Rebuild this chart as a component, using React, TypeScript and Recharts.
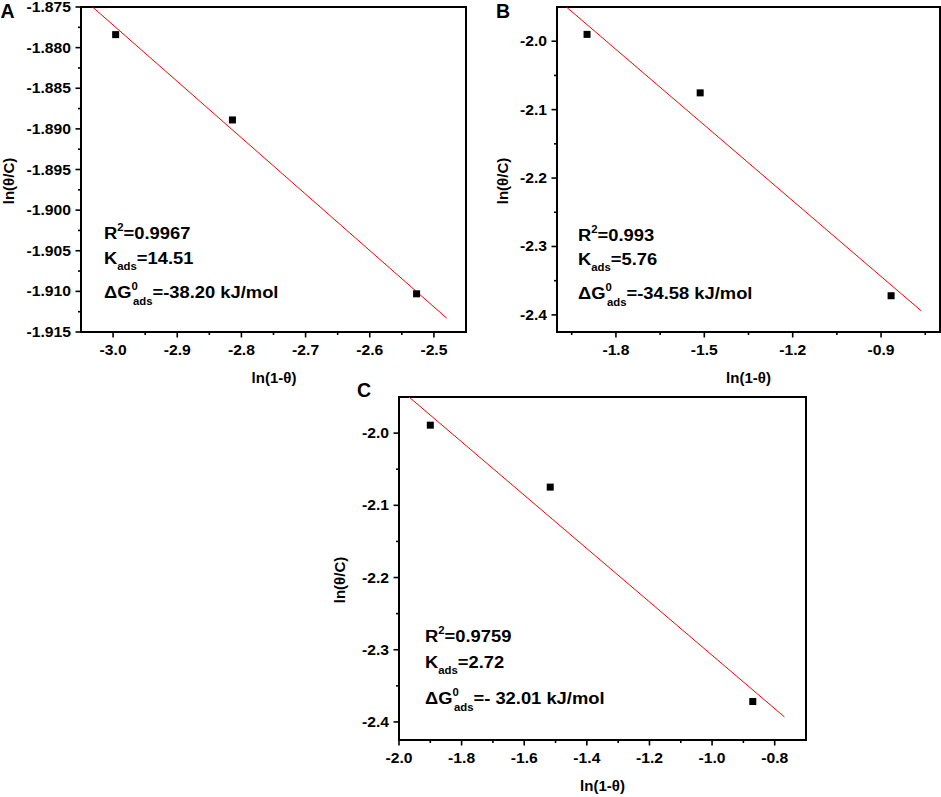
import React from "react";
import {
  ScatterChart,
  Scatter,
  XAxis,
  YAxis,
  ReferenceLine,
  ReferenceArea,
} from "recharts";

const FONT = "'Liberation Sans', Arial, Helvetica, sans-serif";

// panel A
const xA = [-2.996, -2.814, -2.527];
const yA = [-1.8784, -1.8889, -1.9103];
const fitXA = [-3.032, -2.48];
const fitYA = [-1.875, -1.9133];
const xTicksA = [-3.0, -2.9, -2.8, -2.7, -2.6, -2.5];
const xMinorA = [-2.95, -2.85, -2.75, -2.65, -2.55];
const yTicksA = [-1.915, -1.91, -1.905, -1.9, -1.895, -1.89, -1.885, -1.88, -1.875];
const yMinorA = [-1.9125, -1.9075, -1.9025, -1.8975, -1.8925, -1.8875, -1.8825, -1.8775];
const statsA = ["0.9967", "14.51", "-38.20 kJ/mol"];

// panel B
const xB = [-1.898, -1.514, -0.866];
const yB = [-1.99, -2.0755, -2.372];
const fitXB = [-1.968, -0.764];
const fitYB = [-1.95, -2.394];
const xTicksB = [-1.8, -1.5, -1.2, -0.9];
const xMinorB = [-1.95, -1.65, -1.35, -1.05, -0.75];
const yTicksB = [-2.4, -2.3, -2.2, -2.1, -2.0];
const yMinorB = [-2.35, -2.25, -2.15, -2.05];
const statsB = ["0.993", "5.76", "-34.58 kJ/mol"];

// panel C
const xC = [-1.9, -1.517, -0.87];
const yC = [-1.989, -2.0748, -2.3717];
const fitXC = [-1.968, -0.769];
const fitYC = [-1.95, -2.393];
const xTicksC = [-2.0, -1.8, -1.6, -1.4, -1.2, -1.0, -0.8];
const xMinorC = [-1.9, -1.7, -1.5, -1.3, -1.1, -0.9];
const yTicksC = [-2.4, -2.3, -2.2, -2.1, -2.0];
const yMinorC = [-2.35, -2.25, -2.15, -2.05];
const statsC = ["0.9759", "2.72", "- 32.01 kJ/mol"];

const isIn = (list: number[], v: number) => list.some((m) => Math.abs(m - v) < 1e-9);

const makeXTick = (majors: number[], digits: number) => (props: any) => {
  const { x, y, payload } = props;
  const major = isIn(majors, payload.value);
  return (
    <g>
      <line x1={x} x2={x} y1={y} y2={y + (major ? 5.5 : 3)} stroke="#000" strokeWidth={1.6} />
      {major && (
        <text
          transform={`translate(${x} ${y + 23}) scale(1.12 1)`}
          textAnchor="middle"
          fontSize={14}
          fontWeight="bold"
          fontFamily={FONT}
          fill="#000"
        >
          {payload.value.toFixed(digits)}
        </text>
      )}
    </g>
  );
};

const makeYTick = (majors: number[], digits: number) => (props: any) => {
  const { x, y, payload } = props;
  const major = isIn(majors, payload.value);
  return (
    <g>
      <line x1={x} x2={x - (major ? 5.5 : 3)} y1={y} y2={y} stroke="#000" strokeWidth={1.6} />
      {major && (
        <text
          transform={`translate(${x - 10} ${y + 5}) scale(1.12 1)`}
          textAnchor="end"
          fontSize={14}
          fontWeight="bold"
          fontFamily={FONT}
          fill="#000"
        >
          {payload.value.toFixed(digits)}
        </text>
      )}
    </g>
  );
};

const Square = (props: any) => (
  <rect x={props.cx - 3.5} y={props.cy - 3.5} width={7} height={7} fill="#000" />
);

type PanelProps = {
  left: number;
  top: number;
  width: number;
  height: number;
  margin: { top: number; right: number; bottom: number; left: number };
  yAxisWidth: number;
  xAxisHeight: number;
  xs: number[];
  ys: number[];
  fitX: number[];
  fitY: number[];
  xDomain: [number, number];
  yDomain: [number, number];
  xTicks: number[];
  xMinor: number[];
  yTicks: number[];
  yMinor: number[];
  xDigits: number;
  yDigits: number;
};

const Panel = (p: PanelProps) => {
  const data = p.xs.map((x, i) => ({ x, y: p.ys[i] }));
  const allX = [...p.xTicks, ...p.xMinor].sort((a, b) => a - b);
  const allY = [...p.yTicks, ...p.yMinor].sort((a, b) => a - b);
  return (
    <div style={{ position: "absolute", left: p.left, top: p.top }}>
      <ScatterChart width={p.width} height={p.height} margin={p.margin}>
        <XAxis
          dataKey="x"
          type="number"
          domain={p.xDomain}
          allowDataOverflow
          ticks={allX}
          interval={0}
          tickSize={0}
          tickMargin={0}
          tickLine={false}
          axisLine={false}
          height={p.xAxisHeight}
          tick={makeXTick(p.xTicks, p.xDigits)}
        />
        <YAxis
          dataKey="y"
          type="number"
          domain={p.yDomain}
          allowDataOverflow
          ticks={allY}
          interval={0}
          tickSize={0}
          tickMargin={0}
          tickLine={false}
          axisLine={false}
          width={p.yAxisWidth}
          tick={makeYTick(p.yTicks, p.yDigits)}
        />
        <ReferenceLine
          segment={[
            { x: p.fitX[0], y: p.fitY[0] },
            { x: p.fitX[1], y: p.fitY[1] },
          ]}
          stroke="#ff0000"
          strokeWidth={1}
          ifOverflow="visible"
        />
        <Scatter data={data} shape={Square} isAnimationActive={false} />
        <ReferenceArea
          x1={p.xDomain[0]}
          x2={p.xDomain[1]}
          y1={p.yDomain[0]}
          y2={p.yDomain[1]}
          fill="none"
          fillOpacity={0}
          stroke="#000"
          strokeWidth={2}
          strokeOpacity={1}
          ifOverflow="visible"
        />
      </ScatterChart>
    </div>
  );
};

const Stats = ({ x, y, stats }: { x: number; y: number[]; stats: string[] }) => {
  const t = (yy: number) => `translate(${x} ${yy}) scale(1.08 1)`;
  return (
    <g fontFamily={FONT} fontWeight="bold" fill="#000">
      <text transform={t(y[0])} fontSize={17}>
        R<tspan fontSize={10.5} dy={-8}>2</tspan>
        <tspan dy={8}>={stats[0]}</tspan>
      </text>
      <text transform={t(y[1])} fontSize={17}>
        K<tspan fontSize={10.5} dy={6}>ads</tspan>
        <tspan dy={-6}>={stats[1]}</tspan>
      </text>
      <text transform={t(y[2])} fontSize={17}>
        ΔG<tspan fontSize={10.5} dy={-8}>0</tspan>
        <tspan fontSize={10.5} dx={-4.5} dy={15}>ads</tspan>
        <tspan dy={-7}>={stats[2]}</tspan>
      </text>
    </g>
  );
};

const XTitle = ({ x, y }: { x: number; y: number }) => (
  <text x={x} y={y} textAnchor="middle" fontSize={15} fontWeight="bold" fontFamily={FONT}>
    ln(1-θ)
  </text>
);

const YTitle = ({ x, y }: { x: number; y: number }) => (
  <text
    transform={`translate(${x} ${y}) rotate(-90)`}
    textAnchor="middle"
    dominantBaseline="central"
    fontSize={15}
    fontWeight="bold"
    fontFamily={FONT}
  >
    ln(θ/C)
  </text>
);

const Letter = ({ x, y, c }: { x: number; y: number; c: string }) => (
  <text x={x} y={y} fontSize={19.5} fontWeight="bold" fontFamily={FONT}>
    {c}
  </text>
);

export default function App() {
  return (
    <div
      style={{
        position: "absolute",
        left: 0,
        top: 0,
        width: 941,
        height: 797,
        background: "#fff",
        overflow: "hidden",
      }}
    >
      <Panel
        left={0}
        top={0}
        width={470}
        height={390}
        margin={{ top: 7, right: 4, bottom: 0, left: 0 }}
        yAxisWidth={81}
        xAxisHeight={58}
        xs={xA}
        ys={yA}
        fitX={fitXA}
        fitY={fitYA}
        xDomain={[-3.05, -2.45]}
        yDomain={[-1.915, -1.875]}
        xTicks={xTicksA}
        xMinor={xMinorA}
        yTicks={yTicksA}
        yMinor={yMinorA}
        xDigits={1}
        yDigits={3}
      />
      <Panel
        left={470}
        top={0}
        width={471}
        height={390}
        margin={{ top: 7, right: 1, bottom: 0, left: 0 }}
        yAxisWidth={87}
        xAxisHeight={58}
        xs={xB}
        ys={yB}
        fitX={fitXB}
        fitY={fitYB}
        xDomain={[-2.0, -0.7]}
        yDomain={[-2.425, -1.95]}
        xTicks={xTicksB}
        xMinor={xMinorB}
        yTicks={yTicksB}
        yMinor={yMinorB}
        xDigits={1}
        yDigits={1}
      />
      <Panel
        left={320}
        top={370}
        width={490}
        height={427}
        margin={{ top: 27, right: 4, bottom: 0, left: 0 }}
        yAxisWidth={79}
        xAxisHeight={57}
        xs={xC}
        ys={yC}
        fitX={fitXC}
        fitY={fitYC}
        xDomain={[-2.0, -0.7]}
        yDomain={[-2.425, -1.95]}
        xTicks={xTicksC}
        xMinor={xMinorC}
        yTicks={yTicksC}
        yMinor={yMinorC}
        xDigits={1}
        yDigits={1}
      />
      <svg
        width={941}
        height={797}
        style={{ position: "absolute", left: 0, top: 0, pointerEvents: "none" }}
      >
        <Letter x={0.5} y={17.5} c="A" />
        <Letter x={496} y={17.5} c="B" />
        <Letter x={357} y={396.5} c="C" />
        <XTitle x={274} y={383} />
        <XTitle x={748.5} y={383} />
        <XTitle x={602.5} y={791} />
        <YTitle x={8} y={181} />
        <YTitle x={502.5} y={181} />
        <YTitle x={339} y={580} />
        <Stats x={104} y={[238.5, 263.5, 297.5]} stats={statsA} />
        <Stats x={578} y={[240.5, 265, 299.3]} stats={statsB} />
        <Stats x={425} y={[641.7, 667.7, 704.3]} stats={statsC} />
      </svg>
    </div>
  );
}
